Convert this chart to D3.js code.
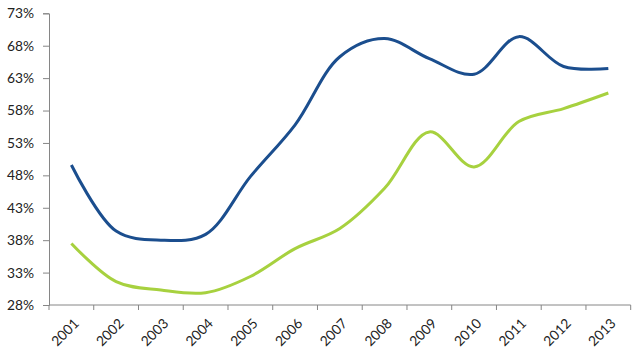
<!DOCTYPE html>
<html><head><meta charset="utf-8">
<script src="https://cdn.jsdelivr.net/npm/d3@7/dist/d3.min.js"></script>
<style>body{margin:0;background:#fff}svg{display:block}text{font-family:Lato,"Open Sans",sans-serif;fill:#222}</style>
</head><body>
<script>
const years = ["2001","2002","2003","2004","2005","2006","2007","2008","2009","2010","2011","2012","2013"];
const blueSeries = [49.6,39.4,38.0,38.9,47.8,55.8,66.3,69.1,66.0,63.6,69.4,64.8,64.5];
const greenSeries = [37.5,31.6,30.3,29.9,32.4,36.7,39.8,46.0,54.7,49.3,56.3,58.3,60.7];
const yTicks = [28,33,38,43,48,53,58,63,68,73];

const W=640,H=355;
const svg=d3.select("body").append("svg").attr("width",W).attr("height",H);
const x=d3.scaleBand().domain(years).range([49,630.7]);
const y=d3.scaleLinear().domain([28,73]).range([305,13.3]);
const axisColor="#868686";

const ya=svg.append("g").attr("transform","translate(49,0)")
 .call(d3.axisLeft(y).tickValues(yTicks).tickSize(6).tickPadding(9).tickFormat(d=>d+"%"));
ya.selectAll("path,line").attr("stroke",axisColor);
ya.selectAll("text").attr("font-size",13.8).attr("fill","#222");

const xa=svg.append("g").attr("transform","translate(0,305)");
xa.append("line").attr("x1",49).attr("x2",630.7).attr("stroke",axisColor);
const edges=years.map(d=>x(d)).concat([x(years[years.length-1])+x.bandwidth()]);
xa.selectAll("line.t").data(edges).join("line").attr("class","t")
 .attr("x1",d=>d).attr("x2",d=>d).attr("y1",0).attr("y2",5).attr("stroke",axisColor);
xa.selectAll("text").data(years).join("text")
 .attr("transform",d=>`translate(${x(d)+x.bandwidth()/2+5},${16}) rotate(-45)`)
 .attr("text-anchor","end").attr("dy","0.35em").attr("font-size",13.8).text(d=>d);

const line=d3.line().x((d,i)=>x(years[i])+x.bandwidth()/2).y(d=>y(d)).curve(d3.curveCatmullRom.alpha(0.5));
svg.append("path").datum(greenSeries).attr("d",line).attr("fill","none").attr("stroke","#A7D13F").attr("stroke-width",3);
svg.append("path").datum(blueSeries).attr("d",line).attr("fill","none").attr("stroke","#1B4E8E").attr("stroke-width",3);
</script>
</body></html>
